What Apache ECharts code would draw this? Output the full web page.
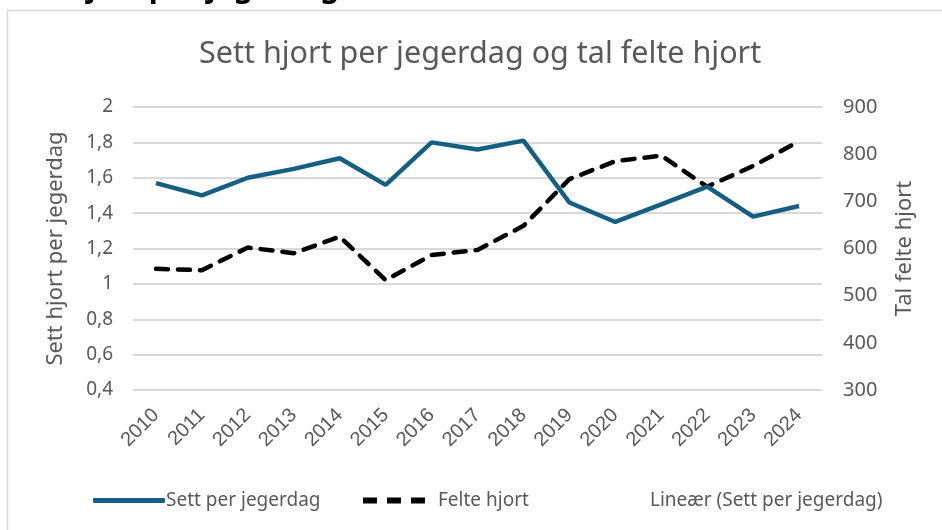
<!DOCTYPE html>
<html>
<head>
<meta charset="utf-8">
<script src="https://cdn.jsdelivr.net/npm/echarts@6/dist/echarts.min.js"></script>
<style>
  html, body { margin: 0; padding: 0; background: #fff; }
  #chart_line { width: 942px; height: 530px; }
</style>
</head>
<body>
<div id="chart_line"></div>
<script>
// data
const years = ['2010', '2011', '2012', '2013', '2014', '2015', '2016', '2017',
  '2018', '2019', '2020', '2021', '2022', '2023', '2024']
const settPerJegerdag = [1.57, 1.50, 1.60, 1.65, 1.71, 1.56, 1.80, 1.76,
  1.81, 1.46, 1.35, 1.45, 1.55, 1.38, 1.44]
const felteHjort = [557, 554, 602, 590, 625, 533, 586, 597,
  648, 747, 785, 797, 731, 775, 827]

const textColor = '#595959'
const font = 'Noto Sans'

const chart = echarts.init(document.getElementById('chart_line'))

chart.setOption({
  animation: false,
  backgroundColor: '#fff',
  graphic: [
    {
      type: 'rect',
      shape: { x: 7.5, y: 10.5, width: 940, height: 530 },
      style: { fill: 'none', stroke: '#d9d9d9', lineWidth: 1.5 }
    },
    {
      type: 'text',
      left: -1,
      top: -27,
      style: {
        text: 'Sett hjort per jegerdag',
        fill: '#000',
        font: 'bold 30px "Noto Sans"'
      }
    }
  ],
  title: {
    text: 'Sett hjort per jegerdag og tal felte hjort',
    left: 194,
    top: 34,
    textStyle: {
      color: textColor,
      fontFamily: font,
      fontWeight: 'normal',
      fontSize: 30.5
    }
  },
  legend: [
    {
      left: 88,
      top: 486,
      itemWidth: 72,
      itemHeight: 5,
      data: [{ name: 'Sett per jegerdag', icon: 'roundRect' }],
      textStyle: { color: textColor, fontFamily: font, fontSize: 19, padding: [0, 0, 0, -4] }
    },
    {
      left: 358,
      top: 486,
      itemWidth: 62,
      itemHeight: 6,
      data: [{
        name: 'Felte hjort',
        icon: 'path://M0,0h14v6h-14z M24,0h14v6h-14z M48,0h14v6h-14z'
      }],
      textStyle: { color: textColor, fontFamily: font, fontSize: 19, padding: [0, 0, 0, 8] }
    },
    {
      left: 640,
      top: 486,
      itemWidth: 0,
      itemGap: 0,
      data: [{ name: 'Lineær (Sett per jegerdag)', icon: 'none' }],
      textStyle: { color: textColor, fontFamily: font, fontSize: 19 }
    }
  ],
  grid: {
    left: 133,
    right: 120,
    top: 107,
    bottom: 140,
    containLabel: false
  },
  xAxis: {
    type: 'category',
    data: years,
    boundaryGap: true,
    axisLine: { show: false },
    axisTick: { show: false },
    axisLabel: {
      rotate: 45,
      color: textColor,
      fontFamily: 'Liberation Sans',
      fontSize: 20,
      margin: 22
    }
  },
  yAxis: [
    {
      type: 'value',
      min: 0.4,
      max: 2,
      interval: 0.2,
      name: 'Sett hjort per jegerdag',
      nameLocation: 'middle',
      nameGap: 66,
      nameTextStyle: { color: textColor, fontFamily: font, fontSize: 22 },
      axisLine: { show: false },
      axisTick: { show: false },
      axisLabel: {
        color: textColor,
        fontFamily: font,
        fontSize: 19,
        margin: 20,
        formatter: function (v) {
          return String(Math.round(v * 10) / 10).replace('.', ',')
        }
      },
      splitLine: { lineStyle: { color: '#d9d9d9', width: 2 } }
    },
    {
      type: 'value',
      min: 300,
      max: 900,
      interval: 100,
      name: 'Tal felte hjort',
      nameLocation: 'middle',
      nameGap: 72,
      nameRotate: 90,
      nameTextStyle: { color: textColor, fontFamily: font, fontSize: 22 },
      axisLine: { show: false },
      axisTick: { show: false },
      axisLabel: {
        color: textColor,
        fontFamily: font,
        fontSize: 20,
        margin: 21
      },
      splitLine: { show: false }
    }
  ],
  series: [
    {
      name: 'Sett per jegerdag',
      type: 'line',
      yAxisIndex: 0,
      data: settPerJegerdag,
      showSymbol: false,
      symbol: 'none',
      z: 3,
      lineStyle: { color: '#156082', width: 4.5 },
      itemStyle: { color: '#156082' }
    },
    {
      name: 'Felte hjort',
      type: 'line',
      yAxisIndex: 1,
      data: felteHjort,
      showSymbol: false,
      symbol: 'none',
      z: 2,
      lineStyle: { color: '#000', width: 4.5, type: [12, 10], cap: 'round' },
      itemStyle: { color: '#000' }
    },
    {
      name: 'Lineær (Sett per jegerdag)',
      type: 'line',
      yAxisIndex: 0,
      data: [],
      showSymbol: false,
      lineStyle: { opacity: 0 }
    }
  ]
})
</script>
</body>
</html>
